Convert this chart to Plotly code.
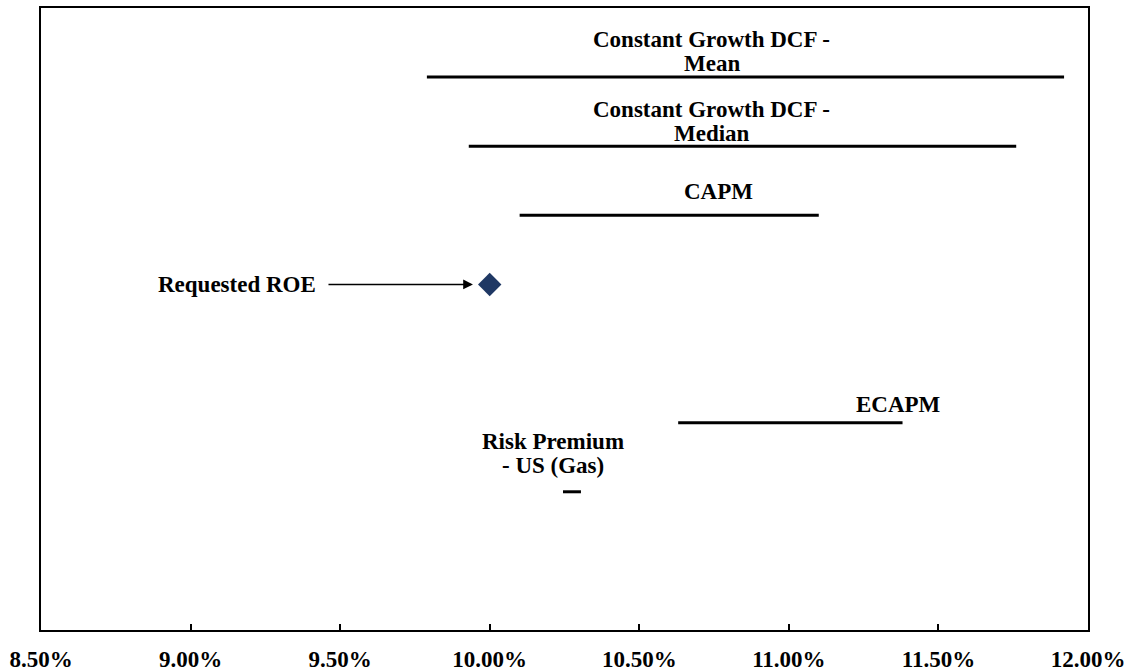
import plotly.graph_objects as go

# ---- data ----
categories = [["Constant Growth DCF -", "Mean"], ["Constant Growth DCF -", "Median"], ["CAPM"], ["ECAPM"],
              ["Risk Premium", "- US (Gas)"]]
range_low = [0.0979, 0.0993, 0.1010, 0.1063, 0.10245]
range_high = [0.1192, 0.1176, 0.1110, 0.1138, 0.10305]
requested_roe = 0.1000
tick_vals = [0.085, 0.09, 0.095, 0.10, 0.105, 0.11, 0.115, 0.12]
tick_text = ["8.50%", "9.00%", "9.50%", "10.00%", "10.50%", "11.00%", "11.50%", "12.00%"]

# ---- layout config ----
row_level = [8, 7, 6, 3, 2]
roe_level = 5
label_x = [0.10743, 0.10743, 0.10764, 0.11368, 0.10212]
label_y = [8.364, 7.365, 6.338, 3.270, 2.554]
LINE_PITCH = 24

FONT = "Liberation Serif"
FSIZE = 23

fig = go.Figure()
for cat, lo, hi, lvl in zip(categories, range_low, range_high, row_level):
    fig.add_trace(go.Scatter(x=[lo, hi], y=[lvl, lvl], mode="lines",
                             line=dict(color="black", width=3), showlegend=False,
                             name=" ".join(cat), hoverinfo="skip"))

fig.add_trace(go.Scatter(x=[requested_roe], y=[roe_level], mode="markers",
                         marker=dict(symbol="diamond", size=18, color="#1F3864"),
                         showlegend=False, name="Requested ROE"))

annotations = []
for cat, lx, ly in zip(categories, label_x, label_y):
    n = len(cat)
    for i, line in enumerate(cat):
        shift = ((n - 1) / 2 - i) * LINE_PITCH
        annotations.append(dict(x=lx, y=ly, text=line, showarrow=False, xanchor="center",
                                yanchor="middle", align="center", yshift=shift,
                                font=dict(family=FONT, size=FSIZE, color="black", weight="bold")))

annotations.append(dict(x=0.09426, y=roe_level, text="Requested ROE", showarrow=False,
                        xanchor="right", yanchor="middle",
                        font=dict(family=FONT, size=FSIZE, color="black", weight="bold")))
annotations.append(dict(x=0.09944, y=roe_level, ax=0.09456, ay=roe_level,
                        xref="x", yref="y", axref="x", ayref="y", text="",
                        showarrow=True, arrowhead=2, arrowsize=1.3, arrowwidth=1.5,
                        arrowcolor="black", standoff=0))

fig.update_layout(
    width=1133, height=671,
    margin=dict(l=41, r=45, t=8, b=41),
    plot_bgcolor="white", paper_bgcolor="white",
    annotations=annotations,
    xaxis=dict(range=[0.085, 0.12], tickvals=tick_vals, ticktext=tick_text,
               showline=True, linecolor="black", linewidth=2, mirror=True,
               ticks="inside", ticklen=6, tickcolor="black", tickwidth=1.5,
               showgrid=False, zeroline=False, ticklabelstandoff=7, automargin=False,
               tickfont=dict(family=FONT, size=FSIZE, color="black", weight="bold")),
    yaxis=dict(range=[0, 9], showticklabels=False, showgrid=False, zeroline=False,
               showline=True, linecolor="black", linewidth=1.5, mirror=True, ticks="",
               automargin=False),
)

fig.write_html("out.html", config={"displayModeBar": False},
               post_script="document.body.style.margin='0';")
